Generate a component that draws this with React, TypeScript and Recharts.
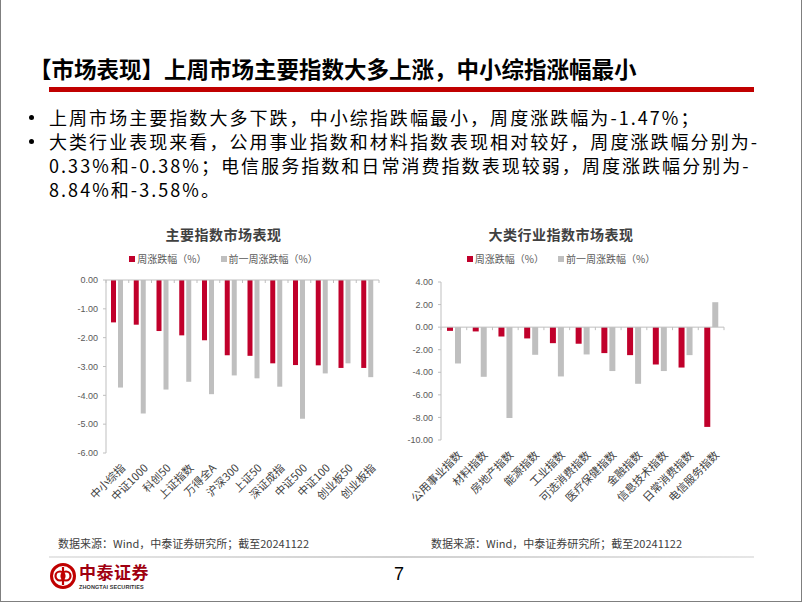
import React from "react";
import { BarChart, Bar, XAxis, YAxis, ReferenceLine } from "recharts";

const indexNames = ["中小综指", "中证1000", "科创50", "上证指数", "万得全A", "沪深300", "上证50", "深证成指", "中证500", "中证100", "创业板50", "创业板指"];
const indexThisWeek = [-1.47, -1.55, -1.77, -1.92, -2.09, -2.61, -2.63, -2.89, -2.95, -2.96, -3.05, -3.05];
const indexLastWeek = [-3.73, -4.63, -3.8, -3.53, -3.96, -3.31, -3.41, -3.7, -4.81, -3.24, -2.89, -3.37];
const indexTicks = [-6, -5, -4, -3, -2, -1, 0];

const sectorNames = ["公用事业指数", "材料指数", "房地产指数", "能源指数", "工业指数", "可选消费指数", "医疗保健指数", "金融指数", "信息技术指数", "日常消费指数", "电信服务指数"];
const sectorThisWeek = [-0.33, -0.38, -0.83, -1.0, -1.42, -1.47, -2.3, -2.48, -3.31, -3.58, -8.84];
const sectorLastWeek = [-3.22, -4.4, -8.05, -2.45, -4.37, -2.42, -3.89, -5.02, -3.89, -2.48, 2.21];
const sectorTicks = [-10, -8, -6, -4, -2, 0, 2, 4];

const RED = "#C0002B";
const GRAY = "#BFBFBF";
const CJK = "'Noto Sans CJK SC', 'Noto Sans', sans-serif";

const indexData = indexNames.map((name, i) => ({ name, cur: indexThisWeek[i], prev: indexLastWeek[i] }));
const sectorData = sectorNames.map((name, i) => ({ name, cur: sectorThisWeek[i], prev: sectorLastWeek[i] }));

const AngledTick = ({ x, y, payload }: any) => (
  <g transform={`translate(${x + 6},${y + 9})`}>
    <text textAnchor="end" transform="rotate(-45)" dy="0.35em" fontSize={11} fill="#404040" fontFamily={CJK}>
      {payload.value}
    </text>
  </g>
);

// zero line with small marks between categories, like the Excel axis
const zeroLine = (count: number) => (props: any) => {
  const { x1, x2, y1 } = props;
  const marks = [];
  for (let i = 0; i <= count; i++) {
    const x = x1 + ((x2 - x1) * i) / count;
    marks.push(<line key={i} x1={x} x2={x} y1={y1} y2={y1 + 3} stroke="#BFBFBF" />);
  }
  return (
    <g>
      <line x1={x1} x2={x2} y1={y1} y2={y1} stroke="#BFBFBF" />
      {marks}
    </g>
  );
};

const Legend = () => (
  <div style={{ display: "flex", justifyContent: "center", gap: 14, fontSize: 10, color: "#595959", fontFamily: CJK }}>
    <span style={{ display: "flex", alignItems: "center", gap: 2 }}>
      <span style={{ width: 6, height: 6, background: RED }} />周涨跌幅（%）
    </span>
    <span style={{ display: "flex", alignItems: "center", gap: 2 }}>
      <span style={{ width: 6, height: 6, background: GRAY }} />前一周涨跌幅（%）
    </span>
  </div>
);

const ChartTitle = ({ text }: { text: string }) => (
  <div style={{ textAlign: "center", fontSize: 14, fontWeight: 700, color: "#404040", fontFamily: CJK, letterSpacing: 0.5 }}>{text}</div>
);

const yTick = { fontSize: 9, fill: "#595959", fontFamily: "'Liberation Sans', Arial, sans-serif" };

const IndexChart = () => (
  <div style={{ position: "absolute", left: 55, top: 224, width: 335 }}>
    <ChartTitle text="主要指数市场表现" />
    <div style={{ marginTop: 7 }}>
      <Legend />
    </div>
    <div style={{ position: "absolute", left: 0, top: 46 }}>
      <BarChart width={335} height={250} data={indexData} margin={{ top: 10, right: 12, bottom: 5, left: 10 }} barSize={5} barGap={2}>
        <XAxis dataKey="name" axisLine={false} tickLine={false} tickSize={0} tickMargin={4} height={62} interval={0} tick={<AngledTick />} />
        <YAxis domain={[-6, 0]} ticks={indexTicks} width={40} tickSize={3} tickMargin={5} stroke="#BFBFBF" tick={yTick} tickFormatter={(v: number) => v.toFixed(2)} />
        <Bar dataKey="cur" fill={RED} isAnimationActive={false} />
        <Bar dataKey="prev" fill={GRAY} isAnimationActive={false} />
        <ReferenceLine y={0} shape={zeroLine(indexNames.length)} />
      </BarChart>
    </div>
  </div>
);

const SectorChart = () => (
  <div style={{ position: "absolute", left: 390, top: 224, width: 340 }}>
    <ChartTitle text="大类行业指数市场表现" />
    <div style={{ marginTop: 7 }}>
      <Legend />
    </div>
    <div style={{ position: "absolute", left: 0, top: 46 }}>
      <BarChart width={340} height={250} data={sectorData} margin={{ top: 12, right: 7, bottom: 5, left: 10 }} barSize={6} barGap={2}>
        <XAxis dataKey="name" axisLine={false} tickLine={false} tickSize={0} tickMargin={4} height={75} interval={0} tick={<AngledTick />} />
        <YAxis domain={[-10, 4]} ticks={sectorTicks} width={40} tickSize={3} tickMargin={5} stroke="#BFBFBF" tick={yTick} tickFormatter={(v: number) => v.toFixed(2)} />
        <Bar dataKey="cur" fill={RED} isAnimationActive={false} />
        <Bar dataKey="prev" fill={GRAY} isAnimationActive={false} />
        <ReferenceLine y={0} shape={zeroLine(sectorNames.length)} />
      </BarChart>
    </div>
  </div>
);

const bulletText = { fontSize: 18, letterSpacing: 2.05, lineHeight: "24px", whiteSpace: "nowrap" as const };
const dot = { position: "absolute" as const, left: 28, width: 5, height: 5, borderRadius: "50%", background: "#000" };

export default function App() {
  return (
    <div
      style={{
        position: "absolute",
        left: 0,
        top: 0,
        width: 802,
        height: 602,
        boxSizing: "border-box",
        borderLeft: "1px solid #7f7f7f",
        borderRight: "1px solid #7f7f7f",
        borderBottom: "1px solid #7f7f7f",
        background: "#fff",
        fontFamily: CJK,
        color: "#000",
        overflow: "hidden",
      }}
    >
      <div style={{ position: "absolute", left: 28, top: 52, fontSize: 22.5, fontWeight: 700, whiteSpace: "nowrap" }}>
        【市场表现】上周市场主要指数大多上涨，中小综指涨幅最小
      </div>
      <div style={{ position: "absolute", left: 48, top: 87, width: 705, height: 5, background: "#C00000" }} />

      <div style={{ ...dot, top: 115 }} />
      <div style={{ ...dot, top: 139 }} />
      <div style={{ position: "absolute", left: 48, top: 105, ...bulletText }}>
        上周市场主要指数大多下跌，中小综指跌幅最小，周度涨跌幅为-1.47%；
        <br />
        大类行业表现来看，公用事业指数和材料指数表现相对较好，周度涨跌幅分别为-
        <br />
        0.33%和-0.38%；电信服务指数和日常消费指数表现较弱，周度涨跌幅分别为-
        <br />
        8.84%和-3.58%。
      </div>

      <IndexChart />
      <SectorChart />

      <div style={{ position: "absolute", left: 57, top: 535, fontSize: 11, color: "#404040", whiteSpace: "nowrap" }}>
        数据来源：Wind，中泰证券研究所；截至20241122
      </div>
      <div style={{ position: "absolute", left: 430, top: 535, fontSize: 11, color: "#404040", whiteSpace: "nowrap" }}>
        数据来源：Wind，中泰证券研究所；截至20241122
      </div>
      <div style={{ position: "absolute", left: 48, top: 556, width: 705, height: 2, background: "linear-gradient(90deg, #e6e6e6, #d0d0d0 50%, #e6e6e6)" }} />

      <svg style={{ position: "absolute", left: 48, top: 562 }} width={30} height={30}>
        <circle cx={14} cy={14} r={11.5} fill="none" stroke="#C00000" strokeWidth={3} />
        <circle cx={11} cy={14} r={4.5} fill="none" stroke="#C00000" strokeWidth={2.2} />
        <circle cx={17} cy={14} r={4.5} fill="none" stroke="#C00000" strokeWidth={2.2} />
        <line x1={14} y1={5} x2={14} y2={23} stroke="#C00000" strokeWidth={2.2} />
      </svg>
      <div style={{ position: "absolute", left: 78, top: 562, fontSize: 17, fontWeight: 700, color: "#A00010", lineHeight: "20px", letterSpacing: 0.5 }}>
        中泰证券
      </div>
      <div style={{ position: "absolute", left: 78, top: 584, fontSize: 5.5, fontWeight: 700, color: "#333", fontFamily: "'Liberation Sans', Arial, sans-serif", letterSpacing: 0.1 }}>
        ZHONGTAI SECURITIES
      </div>
      <div style={{ position: "absolute", left: 393, top: 564, fontSize: 18, fontFamily: "'Liberation Sans', Arial, sans-serif" }}>7</div>
    </div>
  );
}
